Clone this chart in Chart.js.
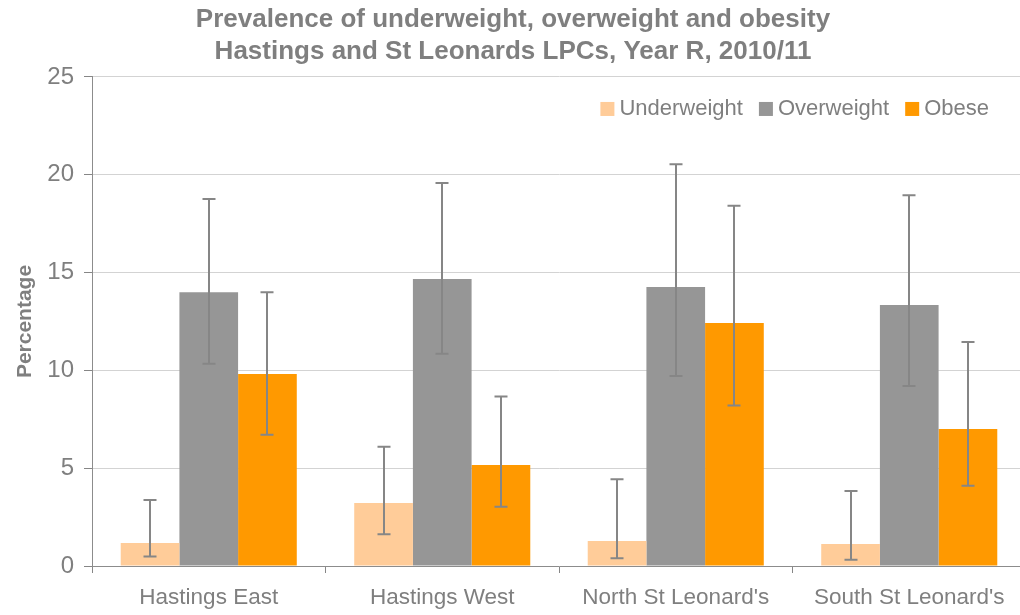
<!DOCTYPE html>
<html>
<head>
<meta charset="utf-8">
<script src="https://cdn.jsdelivr.net/npm/chart.js@4.4.0/dist/chart.umd.min.js"></script>
<style>
  html, body { margin: 0; padding: 0; background: #fff; overflow: hidden; }
  #wrap { position: relative; width: 1026px; height: 615px; }
</style>
</head>
<body>
<div id="wrap"><canvas id="prevalenceChart"></canvas></div>
<script>
// areas
const categories = ["Hastings East", "Hastings West", "North St Leonard's", "South St Leonard's"];

// percentages with 95% confidence limits
const underweight = [1.18, 3.22, 1.28, 1.12];
const underweightLow = [0.49, 1.62, 0.39, 0.32];
const underweightHigh = [3.37, 6.10, 4.43, 3.83];

const overweight = [14.0, 14.67, 14.26, 13.34];
const overweightLow = [10.34, 10.85, 9.71, 9.20];
const overweightHigh = [18.76, 19.58, 20.54, 18.95];

const obese = [9.82, 5.16, 12.42, 7.0];
const obeseLow = [6.71, 3.03, 8.21, 4.10];
const obeseHigh = [14.0, 8.66, 18.42, 11.45];

const yTicks = [0, 5, 10, 15, 20, 25];

const fontFamily = "'Liberation Sans', Arial, sans-serif";
const grey = "#7f7f7f";

// error bars drawn from the low/high arrays through the y scale
const errorBars = {
  id: "errorBars",
  afterDatasetsDraw(chart) {
    const ctx = chart.ctx;
    const y = chart.scales.y;
    ctx.save();
    ctx.strokeStyle = "#868686";
    ctx.lineWidth = 2;
    chart.data.datasets.forEach((ds, i) => {
      const meta = chart.getDatasetMeta(i);
      meta.data.forEach((bar, j) => {
        const top = y.getPixelForValue(ds.high[j]);
        const bottom = y.getPixelForValue(ds.low[j]);
        const x = Math.round(bar.x);
        ctx.beginPath();
        ctx.moveTo(x, top);
        ctx.lineTo(x, bottom);
        ctx.moveTo(x - 6.5, top);
        ctx.lineTo(x + 6.5, top);
        ctx.moveTo(x - 6.5, bottom);
        ctx.lineTo(x + 6.5, bottom);
        ctx.stroke();
      });
    });
    ctx.restore();
  }
};

// legend inside the plot, top right
const insideLegend = {
  id: "insideLegend",
  afterDraw(chart) {
    const ctx = chart.ctx;
    const area = chart.chartArea;
    ctx.save();
    ctx.font = "22px " + fontFamily;
    ctx.textBaseline = "middle";
    const box = 14, gap = 5, between = 16;
    let x = area.right - 37;
    const yMid = area.top + 32;
    const items = chart.data.datasets.slice().reverse();
    items.forEach(ds => {
      const w = ctx.measureText(ds.label).width;
      x -= w;
      ctx.fillStyle = grey;
      ctx.fillText(ds.label, x, yMid);
      x -= gap + box;
      ctx.fillStyle = ds.backgroundColor;
      ctx.fillRect(x, yMid - box / 2, box, box);
      x -= between;
    });
    ctx.restore();
  }
};

new Chart(document.getElementById("prevalenceChart"), {
  type: "bar",
  data: {
    labels: categories,
    datasets: [
      { label: "Underweight", data: underweight, low: underweightLow, high: underweightHigh, backgroundColor: "#ffcc99" },
      { label: "Overweight", data: overweight, low: overweightLow, high: overweightHigh, backgroundColor: "#969696" },
      { label: "Obese", data: obese, low: obeseLow, high: obeseHigh, backgroundColor: "#ff9900" }
    ]
  },
  options: {
    responsive: true,
    maintainAspectRatio: false,
    animation: false,
    layout: { padding: 0 },
    datasets: {
      bar: { categoryPercentage: 0.754, barPercentage: 1.0, borderWidth: 0 }
    },
    plugins: {
      legend: { display: false },
      tooltip: { enabled: false },
      title: {
        display: true,
        text: ["Prevalence of underweight, overweight and obesity", "Hastings and St Leonards LPCs, Year R, 2010/11"],
        color: grey,
        font: { family: fontFamily, size: 26, weight: "bold", lineHeight: 1.23 },
        padding: { top: 4, bottom: 9 }
      }
    },
    scales: {
      x: {
        afterFit(scale) { scale.height = 49; },
        grid: { offset: true, drawOnChartArea: false, drawTicks: true, tickLength: 7, tickColor: "#868686" },
        border: { color: "#8c8c8c", width: 1 },
        ticks: { color: grey, padding: 11, font: { family: fontFamily, size: 22.5 }, maxRotation: 0 }
      },
      y: {
        min: 0,
        max: 25,
        afterBuildTicks(scale) { scale.ticks = yTicks.map(v => ({ value: v })); },
        afterFit(scale) { scale.width = 92; },
        grid: { color: "#d3d3d3", lineWidth: 1, tickLength: 8, tickColor: "#868686" },
        border: { color: "#8c8c8c", width: 1 },
        ticks: { color: grey, padding: 10, font: { family: fontFamily, size: 24 } },
        title: {
          display: true,
          text: "Percentage",
          color: grey,
          font: { family: fontFamily, size: 21, weight: "bold" },
          padding: { top: 13, bottom: 0 }
        }
      }
    }
  },
  plugins: [errorBars, insideLegend]
});
</script>
</body>
</html>
